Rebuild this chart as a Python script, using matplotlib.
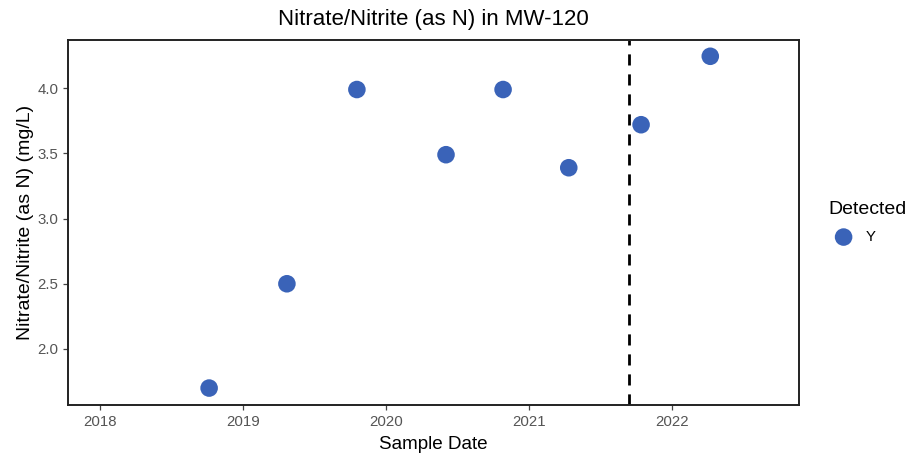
import datetime as dt

import matplotlib
matplotlib.use("Agg")
import matplotlib.dates as mdates
import matplotlib.pyplot as plt

plt.rcParams["font.family"] = ["Liberation Sans", "DejaVu Sans"]

sample_dates = [
    dt.date(2018, 10, 6),
    dt.date(2019, 4, 23),
    dt.date(2019, 10, 19),
    dt.date(2020, 6, 3),
    dt.date(2020, 10, 27),
    dt.date(2021, 4, 13),
    dt.date(2021, 10, 15),
    dt.date(2022, 4, 10),
]
nitrate = [1.70, 2.50, 3.99, 3.49, 3.99, 3.39, 3.72, 4.245]
detected = ["Y"] * len(nitrate)
cutoff_date = dt.date(2021, 9, 13)

fig = plt.figure(figsize=(9.09, 4.58), dpi=100)
ax = fig.add_axes([0.0748, 0.1157, 0.8042, 0.797])

ax.scatter(sample_dates, nitrate, s=160, color="#3a63b8", edgecolors="none",
           zorder=3, label=detected[0])
ax.axvline(cutoff_date, color="black", linestyle=(0, (4, 3.2)), linewidth=2.0, zorder=2)

ax.set_xlim(dt.date(2017, 10, 10), dt.date(2022, 11, 23))
ax.set_ylim(1.57, 4.37)
ax.xaxis.set_major_locator(mdates.YearLocator())
ax.xaxis.set_major_formatter(mdates.DateFormatter("%Y"))
ax.set_yticks([2.0, 2.5, 3.0, 3.5, 4.0])
ax.set_yticklabels(["2.0", "2.5", "3.0", "3.5", "4.0"])

for spine in ax.spines.values():
    spine.set_linewidth(1.4)
    spine.set_color("#222222")
ax.tick_params(axis="both", labelsize=10.8, labelcolor="#555555", color="#444444",
               length=3.5, width=0.9)

ax.set_title("Nitrate/Nitrite (as N) in MW-120", fontsize=16, pad=11)
ax.set_xlabel("Sample Date", fontsize=13.6, labelpad=5)
ax.set_ylabel("Nitrate/Nitrite (as N) (mg/L)", fontsize=14, labelpad=2)

leg = ax.legend(title="Detected", loc="center left", bbox_to_anchor=(1.022, 0.5),
                frameon=False, fontsize=10.8, title_fontsize=14, markerscale=1.0,
                handletextpad=0.5, labelspacing=0.8, alignment="left")

fig.savefig("out.png", dpi=100)
